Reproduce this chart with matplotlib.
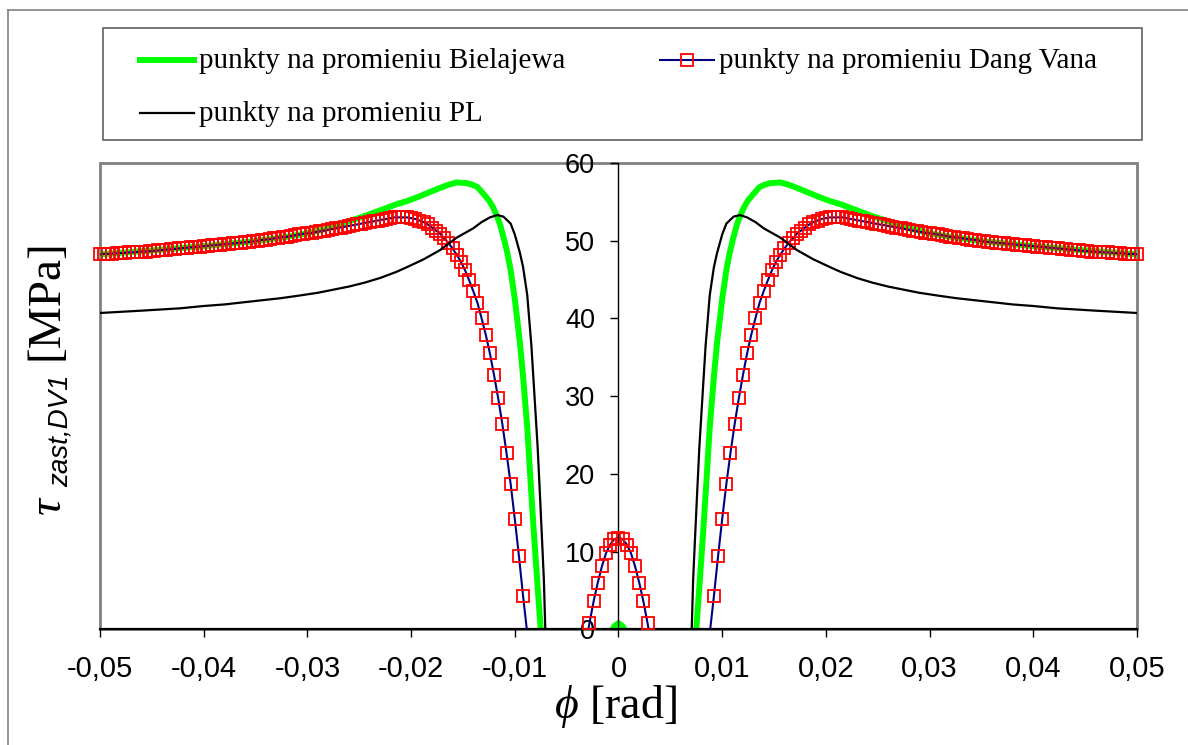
import numpy as np
import matplotlib
matplotlib.use("Agg")
import matplotlib.pyplot as plt
from matplotlib.lines import Line2D
from matplotlib.patches import Rectangle

plt.rcParams['axes.unicode_minus'] = False
plt.rcParams['mathtext.fontset'] = 'custom'
plt.rcParams['mathtext.rm'] = 'Liberation Serif'
plt.rcParams['mathtext.it'] = 'Liberation Serif:italic'

# ---- data (phi >= 0 half, curves are symmetric in phi) ----
# Dang Vana: one point every 0.0004 rad
phi_dv = np.round(np.arange(126) * 0.0004, 4)
tau_dv = [11.8, 11.6, 10.9, 9.8, 8.1, 6.0, 3.6, 0.8, -2.3, -5.8,
          -9.0, -11.5, -13.0, -13.6, -13.0, -11.8, -10.0, -8.0, -6.2, -4.6,
          -3.2, -1.8, -0.5, 4.25, 9.4, 14.2, 18.7, 22.7, 26.4, 29.7,
          32.7, 35.5, 37.9, 40.0, 42.0, 43.5, 44.9, 46.2, 47.3, 48.2,
          49.0, 49.7, 50.3, 50.9, 51.3, 51.7, 52.1, 52.4, 52.6, 52.8,
          52.9, 53.0, 53.0, 53.0, 53.0, 52.9, 52.8, 52.7, 52.6, 52.5,
          52.4, 52.3, 52.2, 52.1, 52.0, 51.9, 51.8, 51.7, 51.6, 51.5,
          51.4, 51.3, 51.2, 51.1, 51.0, 50.95, 50.9, 50.8, 50.7, 50.6,
          50.5, 50.45, 50.4, 50.3, 50.2, 50.15, 50.1, 50.0, 49.9, 49.85,
          49.8, 49.75, 49.7, 49.65, 49.6, 49.55, 49.5, 49.45, 49.4, 49.35,
          49.3, 49.25, 49.2, 49.15, 49.1, 49.05, 49.0, 48.95, 48.9, 48.85,
          48.8, 48.75, 48.7, 48.65, 48.6, 48.6, 48.55, 48.5, 48.5, 48.45,
          48.4, 48.4, 48.35, 48.3, 48.3, 48.25]

# Bielajewa
phi_b = [0, 0.0004, 0.0008, 0.0015, 0.003, 0.005, 0.0068, 0.0075, 0.0078, 0.0082,
         0.0085, 0.0088, 0.0092, 0.0095, 0.0100, 0.0104, 0.0107, 0.0110, 0.0114, 0.0117,
         0.0121, 0.0125, 0.0130, 0.0136, 0.0141, 0.0146, 0.0156, 0.0164, 0.0172, 0.0183,
         0.0194, 0.0204, 0.0214, 0.0228, 0.0244, 0.0260, 0.0280, 0.0300, 0.0320, 0.0350,
         0.0400, 0.0450, 0.0500]
tau_b = [0.8, 0.4, -0.6, -3.0, -8.0, -10.0, -3.5, 0.0, 5.5, 13.2,
         19.5, 26.0, 32.5, 36.8, 42.5, 46.2, 48.3, 50.0, 52.0, 53.1,
         54.3, 55.2, 56.0, 56.9, 57.2, 57.4, 57.5, 57.2, 56.8, 56.2,
         55.6, 55.1, 54.7, 54.0, 53.2, 52.5, 51.6, 50.95, 50.5, 49.95,
         49.3, 48.75, 48.25]

# PL
phi_pl = [0, 0.003, 0.006, 0.0066, 0.00706, 0.0072, 0.0074, 0.0076, 0.0078, 0.0081,
          0.0084, 0.0088, 0.0092, 0.0095, 0.0100, 0.0104, 0.0111, 0.0117, 0.0124, 0.0132,
          0.0140, 0.0148, 0.0156, 0.0164, 0.0172, 0.0180, 0.0188, 0.0196, 0.0204, 0.0214,
          0.0222, 0.0230, 0.0245, 0.0260, 0.0275, 0.0290, 0.0310, 0.0326, 0.0360, 0.0380,
          0.0400, 0.0423, 0.0460, 0.0500]
tau_pl = [-15.0, -13.0, -8.0, -4.0, 0.0, 6.5, 12.3, 18.0, 23.5, 30.0,
          36.5, 43.0, 46.6, 48.4, 50.8, 52.2, 53.1, 53.3, 53.0, 52.4,
          51.6, 51.0, 50.4, 49.6, 48.8, 48.2, 47.6, 47.1, 46.6, 46.0,
          45.6, 45.2, 44.6, 44.1, 43.7, 43.3, 42.9, 42.6, 42.1, 41.8,
          41.6, 41.3, 41.0, 40.7]

xticks = np.round(np.linspace(-0.05, 0.05, 11), 2)
yticks = [0, 10, 20, 30, 40, 50, 60]


def mirror(x, y):
    x = np.asarray(x, dtype=float)
    y = np.asarray(y, dtype=float)
    return np.concatenate([-x[:0:-1], x]), np.concatenate([y[:0:-1], y])


def fx(px):
    return px / 1188.0


def fy(py):
    return 1.0 - py / 745.0


xd, yd = mirror(phi_dv, tau_dv)
xb, yb = mirror(phi_b, tau_b)
xp, yp = mirror(phi_pl, tau_pl)

GREEN = '#00FF00'
NAVY = '#000080'
RED = '#FF0000'
SANS = 'Liberation Sans'
SERIF = 'Liberation Serif'
MARK = dict(marker='s', ms=8.6, mfc='none', mec=RED, mew=1.3)

fig = plt.figure(figsize=(11.88, 7.45), dpi=100)
ax = fig.add_axes([fx(100), fy(629.3), fx(1137) - fx(100), fy(163) - fy(629.3)])

ax.plot(xb, yb, color=GREEN, lw=4.3, zorder=2)
ax.plot(xd, yd, color=NAVY, lw=1.5, zorder=3)
ax.plot(xd, np.where(yd >= 0, yd, np.nan), ls='none', clip_on=False, zorder=4, **MARK)
ax.plot(xp, yp, color='black', lw=1.6, zorder=5)

ax.set_xlim(-0.05, 0.05)
ax.set_ylim(0, 60)

ax.patch.set_edgecolor('#808080')
ax.patch.set_linewidth(2)
ax.spines['top'].set_visible(False)
ax.spines['right'].set_visible(False)
ax.spines['left'].set_position(('data', 0))
ax.spines['left'].set_linewidth(1)
ax.spines['bottom'].set_linewidth(1.6)

ax.set_xticks(xticks)
ax.set_xticklabels(['0' if v == 0 else f'{v:.2f}'.replace('.', ',') for v in xticks],
                   fontfamily=SANS, fontsize=21)
ax.set_yticks(yticks)
ax.set_yticklabels([str(v) for v in yticks], fontfamily=SANS, fontsize=19.5)
ax.tick_params(axis='x', direction='out', length=5.5, width=1, pad=13)
ax.tick_params(axis='y', direction='out', length=6, width=1, pad=11)

# axis titles
fig.text(fx(615), fy(707), r'$\phi$ [rad]', fontfamily=SERIF, fontsize=33,
         ha='center', va='center')
fig.text(fx(49), fy(506), '\u03c4', fontfamily=SERIF, fontstyle='italic', fontsize=34,
         rotation=90, ha='center', va='center')
fig.text(fx(61), fy(431), 'zast,DV1', fontfamily=SANS, fontstyle='italic', fontsize=20,
         rotation=90, ha='center', va='center')
fig.text(fx(46), fy(300), '[MPa]', fontfamily=SERIF, fontsize=34,
         rotation=90, ha='center', va='center')

# legend box
fig.add_artist(Rectangle((fx(103), fy(140)), fx(1142) - fx(103), fy(28) - fy(140),
                         transform=fig.transFigure, fill=False, edgecolor='#606060', lw=1.2))
leg_items = [
    (140, 60, dict(color=GREEN, lw=4.3), False, 'punkty na promieniu Bielajewa'),
    (660, 60, dict(color=NAVY, lw=1.5), True, 'punkty na promieniu Dang Vana'),
    (140, 113, dict(color='black', lw=1.6), False, 'punkty na promieniu PL'),
]
for x0, y0, line_kw, with_marker, label in leg_items:
    fig.add_artist(Line2D([fx(x0), fx(x0 + 54)], [fy(y0), fy(y0)],
                          transform=fig.transFigure, **line_kw))
    if with_marker:
        fig.add_artist(Line2D([fx(x0 + 27)], [fy(y0)], transform=fig.transFigure,
                              ls='none', **MARK))
    fig.text(fx(x0 + 59), fy(y0 + 1), label, fontfamily=SERIF, fontsize=21,
             ha='left', va='center')

# chart area border
fig.add_artist(Line2D([fx(8), 1], [fy(10), fy(10)], transform=fig.transFigure,
                      color='#808080', lw=1.2))
fig.add_artist(Line2D([fx(8), fx(8)], [0, fy(10)], transform=fig.transFigure,
                      color='#808080', lw=1.2))

fig.savefig('out.png', dpi=100)
